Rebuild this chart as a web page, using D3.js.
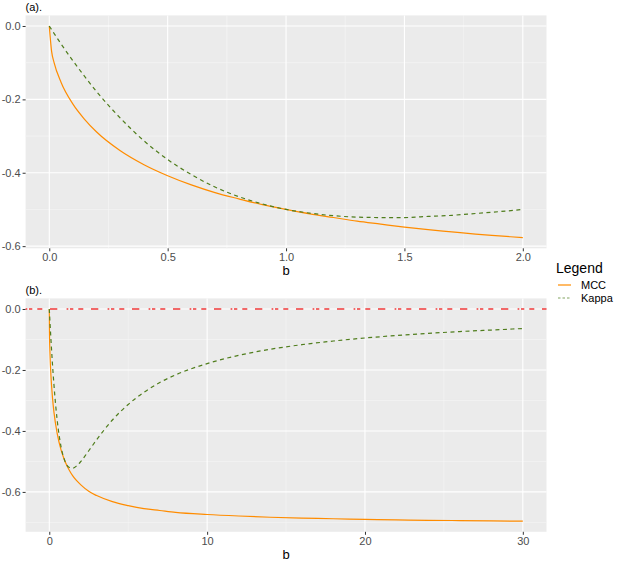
<!DOCTYPE html>
<html>
<head>
<meta charset="utf-8">
<script src="https://cdn.jsdelivr.net/npm/d3@7"></script>
<style>
	html, body { margin: 0; padding: 0; background: #ffffff; }
	text { font-family: 'Liberation Sans', Arial, sans-serif; }
</style>
</head>
<body>
<svg id="chart" width="625" height="561"></svg>
<script>
	'use strict';

	// panel (a): b from 0 to 2
	var bValuesA = [0, 0.01, 0.02, 0.05, 0.1, 0.15, 0.2, 0.3, 0.4, 0.5, 0.6, 0.7, 0.8, 0.9,
		1.0, 1.1, 1.2, 1.3, 1.4, 1.5, 1.6, 1.7, 1.8, 1.9, 2.0];
	var mccA = [0, -0.070, -0.099, -0.154, -0.213, -0.255, -0.289, -0.340, -0.378, -0.408,
		-0.433, -0.454, -0.471, -0.487, -0.500, -0.512, -0.522, -0.532, -0.540, -0.548,
		-0.555, -0.561, -0.567, -0.572, -0.577];
	var kappaA = [0, -0.010, -0.020, -0.049, -0.095, -0.138, -0.179, -0.251, -0.313, -0.364,
		-0.405, -0.439, -0.465, -0.485, -0.500, -0.510, -0.517, -0.521, -0.522, -0.522,
		-0.519, -0.516, -0.511, -0.506, -0.500];

	// panel (b): b from 0 to 30
	var bValuesB = [0, 0.01, 0.05, 0.1, 0.2, 0.3, 0.5, 0.75, 1, 1.25, 1.5, 1.75, 2, 2.5, 3,
		4, 5, 6, 7, 8, 10, 12, 14, 16, 18, 20, 22, 24, 26, 28, 30];
	var mccB = [0, -0.070, -0.154, -0.213, -0.289, -0.340, -0.408, -0.463, -0.500, -0.527,
		-0.548, -0.564, -0.577, -0.598, -0.612, -0.632, -0.645, -0.655, -0.661, -0.667,
		-0.674, -0.679, -0.683, -0.686, -0.688, -0.690, -0.692, -0.693, -0.694, -0.695, -0.696];
	var kappaB = [0, -0.010, -0.049, -0.095, -0.179, -0.251, -0.364, -0.453, -0.500, -0.519,
		-0.522, -0.514, -0.500, -0.465, -0.429, -0.364, -0.313, -0.273, -0.241, -0.216,
		-0.179, -0.152, -0.132, -0.117, -0.105, -0.095, -0.087, -0.080, -0.074, -0.069, -0.064];
	var refLineB = 0;

	var xTicksA = [0, 0.5, 1, 1.5, 2];
	var xMinorA = [0.25, 0.75, 1.25, 1.75];
	var xTicksB = [0, 10, 20, 30];
	var xMinorB = [5, 15, 25];
	var yTicks = [0, -0.2, -0.4, -0.6];
	var yMinor = [-0.1, -0.3, -0.5, -0.7];

	var legendTitle = 'Legend';
	var seriesNames = ['MCC', 'Kappa'];

	var COLORS = { MCC: '#ff8c00', Kappa: '#4f7d1c' };
	var DASH = { MCC: null, Kappa: '4,3.5' };

	var svg = d3.select('#chart');

	var drawPanel = function(opts) {
		var
			bx = opts.b,
			all = opts.series.reduce(function(acc, s) { return acc.concat(s.values); }, [])
				.concat(opts.extra || []),
			yMin = d3.min(all),
			yMax = d3.max(all),
			yPad = (yMax - yMin) * 0.05,
			xExt = d3.extent(bx),
			xPad = (xExt[1] - xExt[0]) * 0.05,
			x = d3.scaleLinear().domain([xExt[0] - xPad, xExt[1] + xPad]).range([opts.left, opts.right]),
			y = d3.scaleLinear().domain([yMin - yPad, yMax + yPad]).range([opts.bottom, opts.top]),
			g = svg.append('g');

		// panel background
		g.append('rect')
			.attr('x', opts.left)
			.attr('y', opts.top)
			.attr('width', opts.right - opts.left)
			.attr('height', opts.bottom - opts.top)
			.attr('fill', '#ebebeb');

		var yMinorIn = yMinor.filter(function(v) { return v >= y.domain()[0] && v <= y.domain()[1]; });
		var yMajorIn = yTicks.filter(function(v) { return v >= y.domain()[0] && v <= y.domain()[1]; });

		// minor grid
		g.selectAll('.xminor').data(opts.xMinor).enter().append('line')
			.attr('x1', function(d) { return x(d); })
			.attr('x2', function(d) { return x(d); })
			.attr('y1', opts.top).attr('y2', opts.bottom)
			.attr('stroke', '#f6f6f6').attr('stroke-width', 0.6);
		g.selectAll('.yminor').data(yMinorIn).enter().append('line')
			.attr('y1', function(d) { return y(d); })
			.attr('y2', function(d) { return y(d); })
			.attr('x1', opts.left).attr('x2', opts.right)
			.attr('stroke', '#f6f6f6').attr('stroke-width', 0.6);

		// major grid
		g.selectAll('.xmajor').data(opts.xTicks).enter().append('line')
			.attr('x1', function(d) { return x(d); })
			.attr('x2', function(d) { return x(d); })
			.attr('y1', opts.top).attr('y2', opts.bottom)
			.attr('stroke', '#ffffff').attr('stroke-width', 1.1);
		g.selectAll('.ymajor').data(yMajorIn).enter().append('line')
			.attr('y1', function(d) { return y(d); })
			.attr('y2', function(d) { return y(d); })
			.attr('x1', opts.left).attr('x2', opts.right)
			.attr('stroke', '#ffffff').attr('stroke-width', 1.1);

		// axes
		var xAxis = d3.axisBottom(x).tickValues(opts.xTicks).tickSize(3).tickPadding(2)
			.tickFormat(opts.xFormat);
		var yAxis = d3.axisLeft(y).tickValues(yMajorIn).tickSize(3).tickPadding(2)
			.tickFormat(d3.format('.1f'));

		var gx = g.append('g').attr('transform', 'translate(0,' + opts.bottom + ')').call(xAxis);
		var gy = g.append('g').attr('transform', 'translate(' + opts.left + ',0)').call(yAxis);
		[gx, gy].forEach(function(ax) {
			ax.select('.domain').remove();
			ax.selectAll('.tick line').attr('stroke', '#333333').attr('stroke-width', 1);
			ax.selectAll('.tick text').attr('fill', '#4d4d4d').style('font-size', '11px')
				.style('font-family', "'Liberation Sans', Arial, sans-serif");
		});
		gy.selectAll('.tick text').text(function(d) { return d3.format('.1f')(d).replace('−', '-'); });

		// axis title
		g.append('text')
			.attr('x', (opts.left + opts.right) / 2)
			.attr('y', opts.bottom + 27)
			.attr('text-anchor', 'middle')
			.style('font-size', '13px')
			.attr('fill', '#000000')
			.text('b');

		// panel tag
		g.append('text')
			.attr('x', opts.left)
			.attr('y', opts.top - 4)
			.style('font-size', '11px')
			.attr('fill', '#000000')
			.text(opts.tag);

		// reference line
		if (opts.refLine !== undefined) {
			g.append('line')
				.attr('x1', opts.left).attr('x2', opts.right)
				.attr('y1', y(opts.refLine)).attr('y2', y(opts.refLine))
				.attr('stroke', '#f03a3a')
				.attr('stroke-width', 1.3)
				.attr('stroke-dasharray', '1.7,1.7,3.3,5,5,7.7,7.3,9.3');
		}

		var line = d3.line()
			.x(function(d, i) { return x(bx[i]); })
			.y(function(d) { return y(d); })
			.curve(d3.curveMonotoneX);

		opts.series.forEach(function(s) {
			g.append('path')
				.datum(s.values)
				.attr('d', line)
				.attr('fill', 'none')
				.attr('stroke', COLORS[s.name])
				.attr('stroke-width', 1.2)
				.attr('stroke-dasharray', DASH[s.name]);
		});
	};

	drawPanel({
		tag: '(a).',
		b: bValuesA,
		series: [{ name: 'MCC', values: mccA }, { name: 'Kappa', values: kappaA }],
		xTicks: xTicksA,
		xMinor: xMinorA,
		xFormat: d3.format('.1f'),
		left: 25.6, right: 546.5, top: 15.4, bottom: 248.3
	});

	drawPanel({
		tag: '(b).',
		b: bValuesB,
		series: [{ name: 'MCC', values: mccB }, { name: 'Kappa', values: kappaB }],
		extra: [refLineB],
		refLine: refLineB,
		xTicks: xTicksB,
		xMinor: xMinorB,
		xFormat: d3.format('d'),
		left: 25.6, right: 546.5, top: 298.4, bottom: 531.8
	});

	// legend
	var legend = svg.append('g').attr('transform', 'translate(556,0)');
	legend.append('text')
		.attr('x', 0).attr('y', 273)
		.style('font-size', '14px')
		.attr('fill', '#000000')
		.text(legendTitle);

	var items = legend.selectAll('.item').data(seriesNames).enter().append('g')
		.attr('transform', function(d, i) { return 'translate(0,' + (285 + i * 13) + ')'; });
	items.append('line')
		.attr('x1', 2).attr('x2', 15)
		.attr('y1', 0).attr('y2', 0)
		.attr('stroke', function(d) { return COLORS[d]; })
		.attr('stroke-width', 1.2)
		.attr('stroke-dasharray', function(d) { return d === 'Kappa' ? '2.5,2' : null; })
		.attr('stroke-opacity', function(d) { return d === 'Kappa' ? 0.7 : 1; });
	items.append('text')
		.attr('x', 25).attr('y', 4)
		.style('font-size', '11px')
		.attr('fill', '#000000')
		.text(function(d) { return d; });
</script>
</body>
</html>
